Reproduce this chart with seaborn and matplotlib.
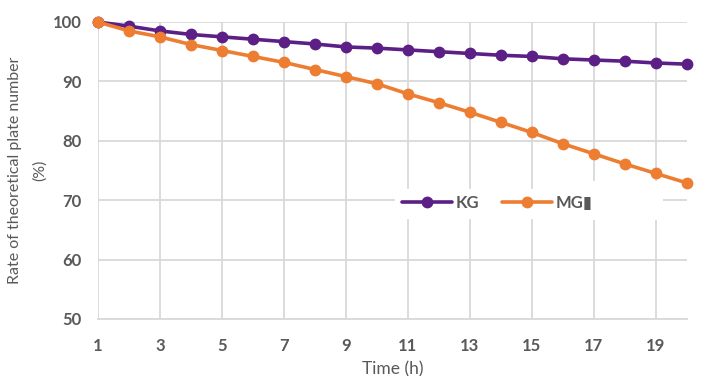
import pandas as pd
import numpy as np
import matplotlib.pyplot as plt
import seaborn as sns
from matplotlib.patches import Rectangle

# ==========================================
# DATA
# ==========================================
time_h = list(range(1, 21))
kg = [100.0, 99.3, 98.5, 97.9, 97.5, 97.1, 96.7, 96.3, 95.8, 95.6,
      95.3, 95.0, 94.7, 94.4, 94.2, 93.8, 93.6, 93.4, 93.1, 92.9]
mg = [100.0, 98.5, 97.5, 96.2, 95.2, 94.2, 93.2, 92.0, 90.8, 89.6,
      87.9, 86.4, 84.8, 83.1, 81.4, 79.5, 77.8, 76.1, 74.5, 72.9]
series_names = ["KG", "MG"]
legend_labels = ["KG", "MG\u25ae"]
x_ticks = list(range(1, 20, 2))
y_ticks = [50, 60, 70, 80, 90, 100]

df = pd.DataFrame({
    "time": time_h * 2,
    "rate": kg + mg,
    "series": [series_names[0]] * len(time_h) + [series_names[1]] * len(time_h),
})

# ==========================================
# STYLE
# ==========================================
sns.set_style("white")
plt.rcParams['font.family'] = ['Lato', 'DejaVu Sans']
text_color = "#595959"
grid_color = "#d9d9d9"
palette = {"KG": "#5b1f86", "MG": "#ed7d31"}

fig = plt.figure(figsize=(7.12, 3.76), dpi=100)
ax = fig.add_axes([0.1376, 0.1516, 0.8272, 0.7899])

sns.lineplot(data=df, x="time", y="rate", hue="series", palette=palette,
             marker="o", markersize=8.5, linewidth=2.6, markeredgewidth=0,
             ax=ax, clip_on=False, zorder=3)

ax.set_xlim(1, 20)
ax.set_ylim(50, 100)
ax.set_xticks(x_ticks)
ax.set_yticks(y_ticks)
ax.grid(True, color=grid_color, linewidth=1.3)
for side in ["top", "right", "left"]:
    ax.spines[side].set_visible(False)
ax.spines["bottom"].set_color(grid_color)
ax.spines["bottom"].set_linewidth(1.3)
ax.tick_params(axis="both", length=0, labelsize=12, labelcolor=text_color)
ax.tick_params(axis="x", pad=14)
ax.tick_params(axis="y", pad=12)
for lab in ax.get_xticklabels() + ax.get_yticklabels():
    lab.set_fontweight("bold")

ax.set_xlabel("Time (h)", fontsize=12.5, color=text_color, labelpad=5)
ax.set_ylabel("Rate of theoretical plate number\n(%)", fontsize=11.5,
              color=text_color, labelpad=4, linespacing=1.9)

# white patch beside the legend, as in the source image
ax.add_patch(Rectangle((0.83, 0.335), 0.13, 0.13, transform=ax.transAxes,
                       facecolor="white", edgecolor="none", zorder=2))

handles, _ = ax.get_legend_handles_labels()
leg = ax.legend(handles, legend_labels, loc="center left",
                bbox_to_anchor=(0.505, 0.39), ncol=2,
                frameon=True, facecolor="white", edgecolor="white",
                framealpha=1, fontsize=12, handlelength=3.0,
                columnspacing=1.4, handletextpad=0.2, borderaxespad=0)
for t in leg.get_texts():
    t.set_color(text_color)
    t.set_fontweight("bold")

plt.savefig("out.png", dpi=100)
